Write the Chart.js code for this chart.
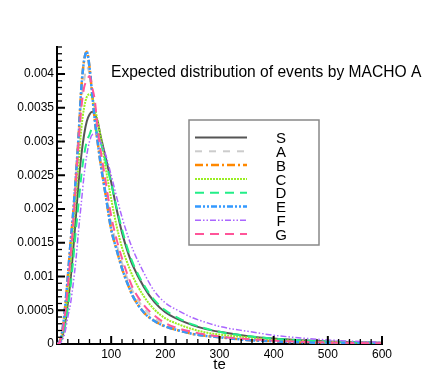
<!DOCTYPE html>
<html lang="en">
  <head>
    <meta charset="UTF-8" />
    <title>Expected distribution of events by MACHO A</title>
    <script src="https://cdn.jsdelivr.net/npm/chart.js@4.4.1/dist/chart.umd.min.js"></script>
    <style>
      html, body {
        margin: 0;
        padding: 0;
        background: #fff;
      }
      #wrap {
        width: 436px;
        height: 388px;
      }
    </style>
  </head>
  <body>
    <div id="wrap"><canvas id="chart" width="436" height="388"></canvas></div>
    <script>
      // te values shared by every series
      const teValues = [0, 5, 10, 15, 20, 25, 30, 35, 40, 45, 50, 55, 60, 65, 70, 75, 80, 90, 100, 110, 120, 130, 140, 160, 180, 200, 225, 250, 275, 300, 350, 400, 450, 500, 550, 600];

      const seriesS = [0, 0.00002, 0.00011, 0.0003, 0.0006, 0.00095, 0.0014, 0.0019, 0.0024, 0.0028, 0.0031, 0.0033, 0.0034, 0.00344, 0.0034, 0.0033, 0.0031, 0.00276, 0.0024, 0.002, 0.00165, 0.00138, 0.00116, 0.00085, 0.00062, 0.00047, 0.00036, 0.00028, 0.00022, 0.00018, 0.00012, 0.00008, 0.000055, 0.000038, 0.000026, 0.000018];
      const seriesA = [0, 0.00004, 0.00018, 0.0005, 0.00092, 0.0014, 0.0019, 0.0025, 0.0031, 0.0036, 0.0039, 0.0041, 0.004, 0.0037, 0.0034, 0.0031, 0.0028, 0.0023, 0.0018, 0.00148, 0.0012, 0.00097, 0.00078, 0.00053, 0.00038, 0.00029, 0.00022, 0.00017, 0.00013, 0.00011, 0.00007, 0.000045, 0.00003, 0.00002, 0.000013, 0.000008];
      const seriesB = [0, 0.00004, 0.0002, 0.00055, 0.001, 0.0015, 0.00195, 0.0025, 0.0031, 0.0038, 0.0042, 0.00433, 0.0041, 0.0037, 0.0033, 0.003, 0.0027, 0.0022, 0.0017, 0.0014, 0.00112, 0.0009, 0.00071, 0.00047, 0.00034, 0.00026, 0.0002, 0.00015, 0.00012, 0.0001, 0.00006, 0.00004, 0.000025, 0.000016, 0.00001, 0.000006];
      const seriesC = [0, 0.00003, 0.00015, 0.0004, 0.00075, 0.0012, 0.0017, 0.0022, 0.0027, 0.0032, 0.0035, 0.00366, 0.0037, 0.00365, 0.0035, 0.0033, 0.0031, 0.0026, 0.00215, 0.00175, 0.00143, 0.0012, 0.001, 0.00071, 0.00051, 0.00038, 0.00029, 0.00022, 0.00017, 0.00014, 0.0001, 0.000065, 0.000045, 0.00003, 0.00002, 0.000013];
      const seriesD = [0, 0.00002, 0.0001, 0.00027, 0.00053, 0.00085, 0.00125, 0.0017, 0.0021, 0.0025, 0.0028, 0.003, 0.0031, 0.0032, 0.00321, 0.0031, 0.003, 0.0027, 0.00238, 0.00202, 0.0017, 0.00142, 0.0012, 0.00088, 0.00065, 0.0005, 0.00038, 0.00029, 0.00023, 0.00018, 0.00012, 0.00008, 0.000055, 0.000037, 0.000025, 0.000017];
      const seriesE = [0, 0.00004, 0.0002, 0.00055, 0.001, 0.0015, 0.00195, 0.0025, 0.0031, 0.0038, 0.0042, 0.00433, 0.0041, 0.0037, 0.0033, 0.003, 0.0027, 0.0022, 0.0017, 0.0014, 0.00112, 0.0009, 0.00071, 0.00047, 0.00034, 0.00026, 0.0002, 0.00015, 0.00012, 0.0001, 0.00006, 0.00004, 0.000025, 0.000016, 0.00001, 0.000006];
      const seriesF = [0, 0.00001, 0.00006, 0.00018, 0.0004, 0.0006, 0.0009, 0.00125, 0.0017, 0.0021, 0.0025, 0.0028, 0.003, 0.0031, 0.00311, 0.0031, 0.003, 0.0028, 0.0025, 0.00218, 0.00188, 0.00162, 0.0014, 0.00106, 0.00078, 0.00061, 0.00049, 0.00039, 0.00032, 0.00026, 0.00019, 0.00013, 0.00009, 0.00006, 0.00004, 0.000025];
      const seriesG = [0, 0.00003, 0.00017, 0.00045, 0.00085, 0.0013, 0.0018, 0.0024, 0.003, 0.0035, 0.0038, 0.0039, 0.00397, 0.0038, 0.0036, 0.0032, 0.0029, 0.0024, 0.0019, 0.00155, 0.00127, 0.00103, 0.00083, 0.00058, 0.00042, 0.00031, 0.00023, 0.00018, 0.00014, 0.00011, 0.000075, 0.00005, 0.000034, 0.000023, 0.000015, 0.00001];

      const seriesLabels = ['S', 'A', 'B', 'C', 'D', 'E', 'F', 'G'];
      const xTickValues = [100, 200, 300, 400, 500, 600];
      const yTickValues = [0, 0.0005, 0.001, 0.0015, 0.002, 0.0025, 0.003, 0.0035, 0.004];

      const FONT = '"Liberation Sans", Arial, Helvetica, sans-serif';

      const styles = [
        { color: '#555555', dash: [], width: 2 },
        { color: '#cccccc', dash: [7, 7], width: 2 },
        { color: '#ff8800', dash: [8, 3, 2, 3], width: 2.5 },
        { color: '#99ee22', dash: [2, 1], width: 2 },
        { color: '#22ee88', dash: [9, 6], width: 2 },
        { color: '#3399ff', dash: [6, 2, 2, 2, 2, 2], width: 2.5 },
        { color: '#aa66ff', dash: [6, 2, 1.5, 2, 1.5, 2], width: 1.5 },
        { color: '#ff5599', dash: [9, 6], width: 2 },
      ];
      // draw order: lower "order" ends up on top
      const drawOrder = [7, 6, 5, 4, 3, 2, 1, 0];

      const allSeries = [seriesS, seriesA, seriesB, seriesC, seriesD, seriesE, seriesF, seriesG];

      const datasets = allSeries.map((vals, i) => ({
        label: seriesLabels[i],
        data: vals.map((v, j) => ({ x: teValues[j], y: v })),
        borderColor: styles[i].color,
        borderDash: styles[i].dash,
        borderWidth: styles[i].width,
        pointRadius: 0,
        fill: false,
        cubicInterpolationMode: 'monotone',
        order: drawOrder[i],
      }));

      // inner tick marks, legend box, title and x title
      const decorations = {
        id: 'decorations',
        afterDatasetsDraw(chart) {
          const { ctx, chartArea, scales } = chart;
          const x = scales.x;
          const y = scales.y;
          ctx.save();

          // ticks pointing into the plot
          ctx.strokeStyle = '#000';
          ctx.setLineDash([]);
          for (let v = 20; v <= 600; v += 20) {
            const px = x.getPixelForValue(v);
            const major = v % 100 === 0;
            ctx.lineWidth = major ? 2 : 1.3;
            ctx.beginPath();
            ctx.moveTo(px, chartArea.bottom);
            ctx.lineTo(px, chartArea.bottom - (major ? 8 : 5));
            ctx.stroke();
          }
          for (let k = 1; k <= 44; k++) {
            const v = k * 0.0001;
            const py = y.getPixelForValue(v);
            const major = k % 5 === 0;
            ctx.lineWidth = major ? 2 : 1.3;
            ctx.beginPath();
            ctx.moveTo(chartArea.left, py);
            ctx.lineTo(chartArea.left + (major ? 8 : 5), py);
            ctx.stroke();
          }

          // legend box
          const bx = 189, by = 120, bw = 130, bh = 125;
          ctx.fillStyle = '#fff';
          ctx.fillRect(bx, by, bw, bh);
          ctx.strokeStyle = '#888';
          ctx.lineWidth = 1.5;
          ctx.strokeRect(bx, by, bw, bh);
          ctx.font = '15px ' + FONT;
          ctx.textAlign = 'center';
          ctx.textBaseline = 'middle';
          chart.data.datasets.forEach((ds, i) => {
            const ly = by + 17.5 + i * 13.8;
            ctx.strokeStyle = ds.borderColor;
            ctx.lineWidth = ds.borderWidth;
            ctx.setLineDash(ds.borderDash);
            ctx.beginPath();
            ctx.moveTo(bx + 6, ly);
            ctx.lineTo(bx + 58, ly);
            ctx.stroke();
            ctx.fillStyle = '#000';
            ctx.fillText(ds.label, bx + 92, ly + 1.5);
          });
          ctx.setLineDash([]);

          // title inside the plot
          ctx.fillStyle = '#000';
          ctx.textAlign = 'left';
          ctx.textBaseline = 'alphabetic';
          ctx.font = '15.6px ' + FONT;
          ctx.fillText('Expected distribution of events by MACHO A', 111, 77);

          // x axis title
          ctx.textAlign = 'center';
          ctx.textBaseline = 'middle';
          ctx.font = '15px ' + FONT;
          ctx.fillText('te', (chartArea.left + chartArea.right) / 2, 365);
          ctx.restore();
        },
      };

      new Chart(document.getElementById('chart'), {
        type: 'line',
        data: { datasets },
        options: {
          responsive: false,
          animation: false,
          layout: { padding: { top: 47, right: 54, bottom: 0, left: 0 } },
          plugins: {
            legend: { display: false },
            title: { display: false },
            tooltip: { enabled: false },
          },
          scales: {
            x: {
              type: 'linear',
              min: 0,
              max: 600,
              grid: { display: false, drawTicks: false },
              border: { display: true, color: '#000', width: 2 },
              afterBuildTicks: (s) => {
                s.ticks = xTickValues.map((v) => ({ value: v }));
              },
              afterFit: (s) => {
                s.height = 44;
              },
              ticks: {
                padding: 3,
                color: '#000',
                maxRotation: 0,
                font: { family: FONT, size: 12 },
              },
            },
            y: {
              type: 'linear',
              min: 0,
              max: 0.0044,
              grid: { display: false, drawTicks: false },
              border: { display: true, color: '#000', width: 2 },
              afterBuildTicks: (s) => {
                s.ticks = yTickValues.map((v) => ({ value: v }));
              },
              afterFit: (s) => {
                s.width = 57;
              },
              ticks: {
                padding: 3,
                color: '#000',
                font: { family: FONT, size: 12 },
                callback: (v) => String(Number(v.toFixed(4))),
              },
            },
          },
        },
        plugins: [decorations],
      });
    </script>
  </body>
</html>
